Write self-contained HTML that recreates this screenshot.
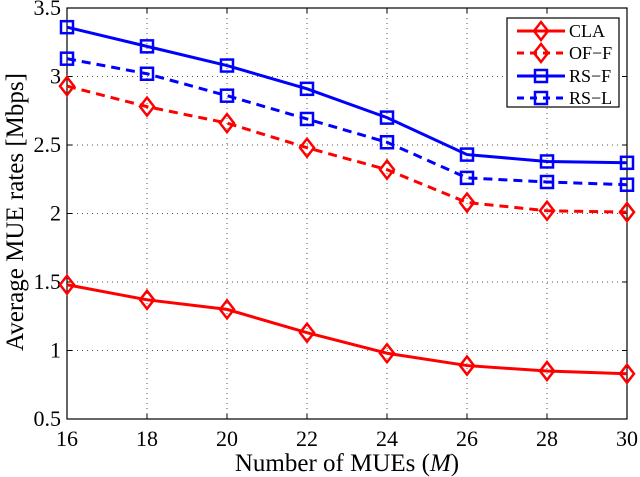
<!DOCTYPE html>
<html><head><meta charset="utf-8"><style>body{margin:0;background:#fff}svg{display:block}text{font-family:"Liberation Serif",serif;fill:#000}</style></head>
<body>
<svg id="chart" width="640" height="477"></svg>
<script>
const categories=[16,18,20,22,24,26,28,30];
const claValues=[1.48,1.37,1.30,1.13,0.98,0.89,0.85,0.83];
const offValues=[2.93,2.78,2.66,2.48,2.32,2.08,2.02,2.01];
const rsfValues=[3.36,3.22,3.08,2.91,2.70,2.43,2.38,2.37];
const rslValues=[3.13,3.02,2.86,2.69,2.52,2.26,2.23,2.21];
const yTicks=[0.5,1,1.5,2,2.5,3,3.5];
const yTickLabels=["0.5","1","1.5","2","2.5","3","3.5"];
const seriesNames=["CLA","OF\u2212F","RS\u2212F","RS\u2212L"];
const NS="http://www.w3.org/2000/svg";
const svg=document.getElementById('chart');
const L=67,R=627,T=8,B=419;
const xS=v=>L+(v-16)/(30-16)*(R-L);
const yS=v=>B-(v-0.5)/3*(B-T);
function mk(tag,attrs,parent){const e=document.createElementNS(NS,tag);for(const k in attrs)e.setAttribute(k,attrs[k]);(parent||svg).appendChild(e);return e;}
const grid=mk('g',{});


categories.forEach(c=>{
 const x=xS(c);
 if(c!==16&&c!==30)mk('line',{x1:x,x2:x,y1:T,y2:B,stroke:'#555','stroke-width':1,'stroke-dasharray':'1,4'},grid);
 mk('line',{x1:x,x2:x,y1:B,y2:B-5,stroke:'#000'},grid);
 mk('line',{x1:x,x2:x,y1:T,y2:T+5,stroke:'#000'},grid);
 const t=mk('text',{x:x,y:B+27,'text-anchor':'middle','font-size':22});t.textContent=c;
 
 
});
yTicks.forEach((v,i)=>{
 const y=yS(v);
 if(i>0&&i<yTicks.length-1)mk('line',{x1:L,x2:R,y1:y,y2:y,stroke:'#555','stroke-width':1,'stroke-dasharray':'1,4'},grid);
 mk('line',{x1:L,x2:L+5,y1:y,y2:y,stroke:'#000'},grid);
 mk('line',{x1:R,x2:R-5,y1:y,y2:y,stroke:'#000'},grid);
 const t=mk('text',{x:L-6,y:y+7,'text-anchor':'end','font-size':22});t.textContent=yTickLabels[i];
 
 
});
const frame=mk('rect',{x:L,y:T,width:R-L,height:B-T,fill:'none',stroke:'#000','stroke-width':1.2});


function marker(g,type,x,y,color){
 if(type==='d')mk('polygon',{points:`${x},${y-9} ${x+7},${y} ${x},${y+9} ${x-7},${y}`,fill:'none',stroke:color,'stroke-width':2.5},g);
 else mk('rect',{x:x-6,y:y-6,width:12,height:12,fill:'none',stroke:color,'stroke-width':2.5},g);
}
const series=[[claValues,'#f00','d',''],[offValues,'#f00','d','9,6'],[rsfValues,'#00f','s',''],[rslValues,'#00f','s','9,6']];
const sNames=['series-cla','series-of-f','series-rs-f','series-rs-l'];
series.forEach((s,i)=>{
 const g=mk('g',{});
 
 
 const pts=categories.map((c,j)=>xS(c)+','+yS(s[0][j])).join(' ');
 mk('polyline',{points:pts,fill:'none',stroke:s[1],'stroke-width':3,'stroke-dasharray':s[3]},g);
 categories.forEach((c,j)=>marker(g,s[2],xS(c),yS(s[0][j]),s[1]));
});
const lg=mk('g',{});


mk('rect',{x:507,y:18,width:112,height:89,fill:'#fff',stroke:'#000','stroke-width':1.2},lg);
const ly=[31,53,76,98];
series.forEach((s,i)=>{
 const e=mk('g',{},lg);
 
 
 mk('line',{x1:517,x2:565,y1:ly[i],y2:ly[i],stroke:s[1],'stroke-width':3,'stroke-dasharray':s[3]?'7,6':''},e);
 marker(e,s[2],541,ly[i],s[1]);
 const t=mk('text',{x:569,y:ly[i]+6,'font-size':18},e);t.textContent=seriesNames[i];
});
const xt=mk('text',{x:347,y:471,'text-anchor':'middle','font-size':25});
xt.innerHTML='Number of MUEs (<tspan font-style="italic">M</tspan>)';


const yt=mk('text',{x:0,y:0,'text-anchor':'middle','font-size':25,transform:`translate(23,212) rotate(-90)`});
yt.textContent='Average MUE rates [Mbps]';


</script>
</body></html>
